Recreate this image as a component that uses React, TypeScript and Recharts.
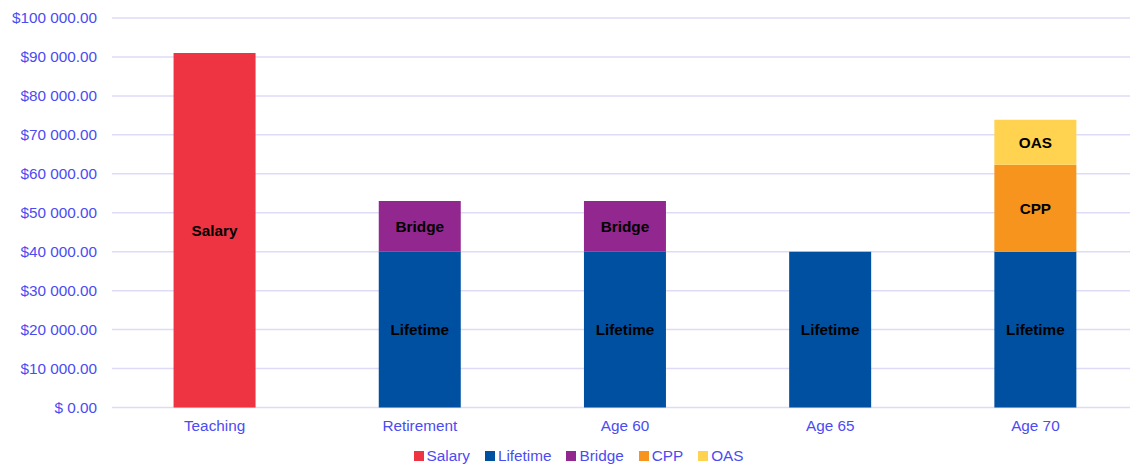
import React from "react";
import { BarChart, Bar, XAxis, YAxis, CartesianGrid, Legend, LabelList } from "recharts";

const categories = ["Teaching", "Retirement", "Age 60", "Age 65", "Age 70"];
const salary = [91000, null, null, null, null];
const lifetime = [null, 40000, 40000, 40000, 40000];
const bridge = [null, 13000, 13000, null, null];
const cpp = [null, null, null, null, 22300];
const oas = [null, null, null, null, 11600];
const yTicks = [0, 10000, 20000, 30000, 40000, 50000, 60000, 70000, 80000, 90000, 100000];

const data = categories.map((name, i) => ({
  name,
  salary: salary[i],
  lifetime: lifetime[i],
  bridge: bridge[i],
  cpp: cpp[i],
  oas: oas[i],
}));

const series = [
  { key: "salary", name: "Salary", color: "#EE3342" },
  { key: "lifetime", name: "Lifetime", color: "#0050A2" },
  { key: "bridge", name: "Bridge", color: "#92278F" },
  { key: "cpp", name: "CPP", color: "#F7941D" },
  { key: "oas", name: "OAS", color: "#FFD24F" },
];

const FONT = "'Liberation Sans', Arial, sans-serif";
const TEXT = "#4B4BF2";

const fmt = (v: number) => {
  if (v === 0) return "$ 0.00";
  const s = Math.round(v).toString().replace(/\B(?=(\d{3})+(?!\d))/g, " ");
  return "$" + s + ".00";
};

const renderLegend = () => (
  <div
    style={{
      height: 20,
      display: "flex",
      justifyContent: "center",
      alignItems: "center",
      fontFamily: FONT,
      fontSize: 15.3,
      color: TEXT,
      paddingLeft: 19,
    }}
  >
    {series.map((s, i) => (
      <div
        key={s.key}
        style={{ display: "flex", alignItems: "center", marginRight: i < series.length - 1 ? 15 : 0 }}
      >
        <span style={{ width: 10, height: 10, background: s.color, display: "inline-block", marginRight: 3 }} />
        <span>{s.name}</span>
      </div>
    ))}
  </div>
);

export default function App() {
  return (
    <div style={{ marginTop: -8, marginLeft: -8, width: 1138, height: 467, fontFamily: FONT }}>
      <BarChart
        width={1138}
        height={467}
        data={data}
        margin={{ top: 18, right: 0, left: 0, bottom: 9.5 }}
        barCategoryGap="30%"
      >
        <CartesianGrid vertical={false} stroke="#DEDBF7" strokeWidth={1.5} />
        <XAxis
          dataKey="name"
          axisLine={false}
          tickLine={false}
          height={30}
          tickMargin={7}
          tick={{ fill: TEXT, fontSize: 15.3, fontFamily: FONT }}
        />
        <YAxis
          width={112}
          domain={[0, 100000]}
          ticks={yTicks}
          interval={0}
          axisLine={false}
          tickLine={false}
          tickMargin={9}
          tickFormatter={fmt}
          tick={{ fill: TEXT, fontSize: 15.3, fontFamily: FONT }}
        />
        <Legend
          verticalAlign="bottom"
          content={renderLegend}
          wrapperStyle={{ bottom: 1, left: 0, width: 1138 }}
        />
        {series.map((s) => (
          <Bar
            key={s.key}
            dataKey={s.key}
            name={s.name}
            stackId="a"
            fill={s.color}
            isAnimationActive={false}
          >
            <LabelList
              dataKey={s.key}
              position="center"
              formatter={(v: any) => (v ? s.name : "")}
              style={{ fill: "#000", fontWeight: "bold", fontSize: 15.3, fontFamily: FONT }}
            />
          </Bar>
        ))}
      </BarChart>
    </div>
  );
}
